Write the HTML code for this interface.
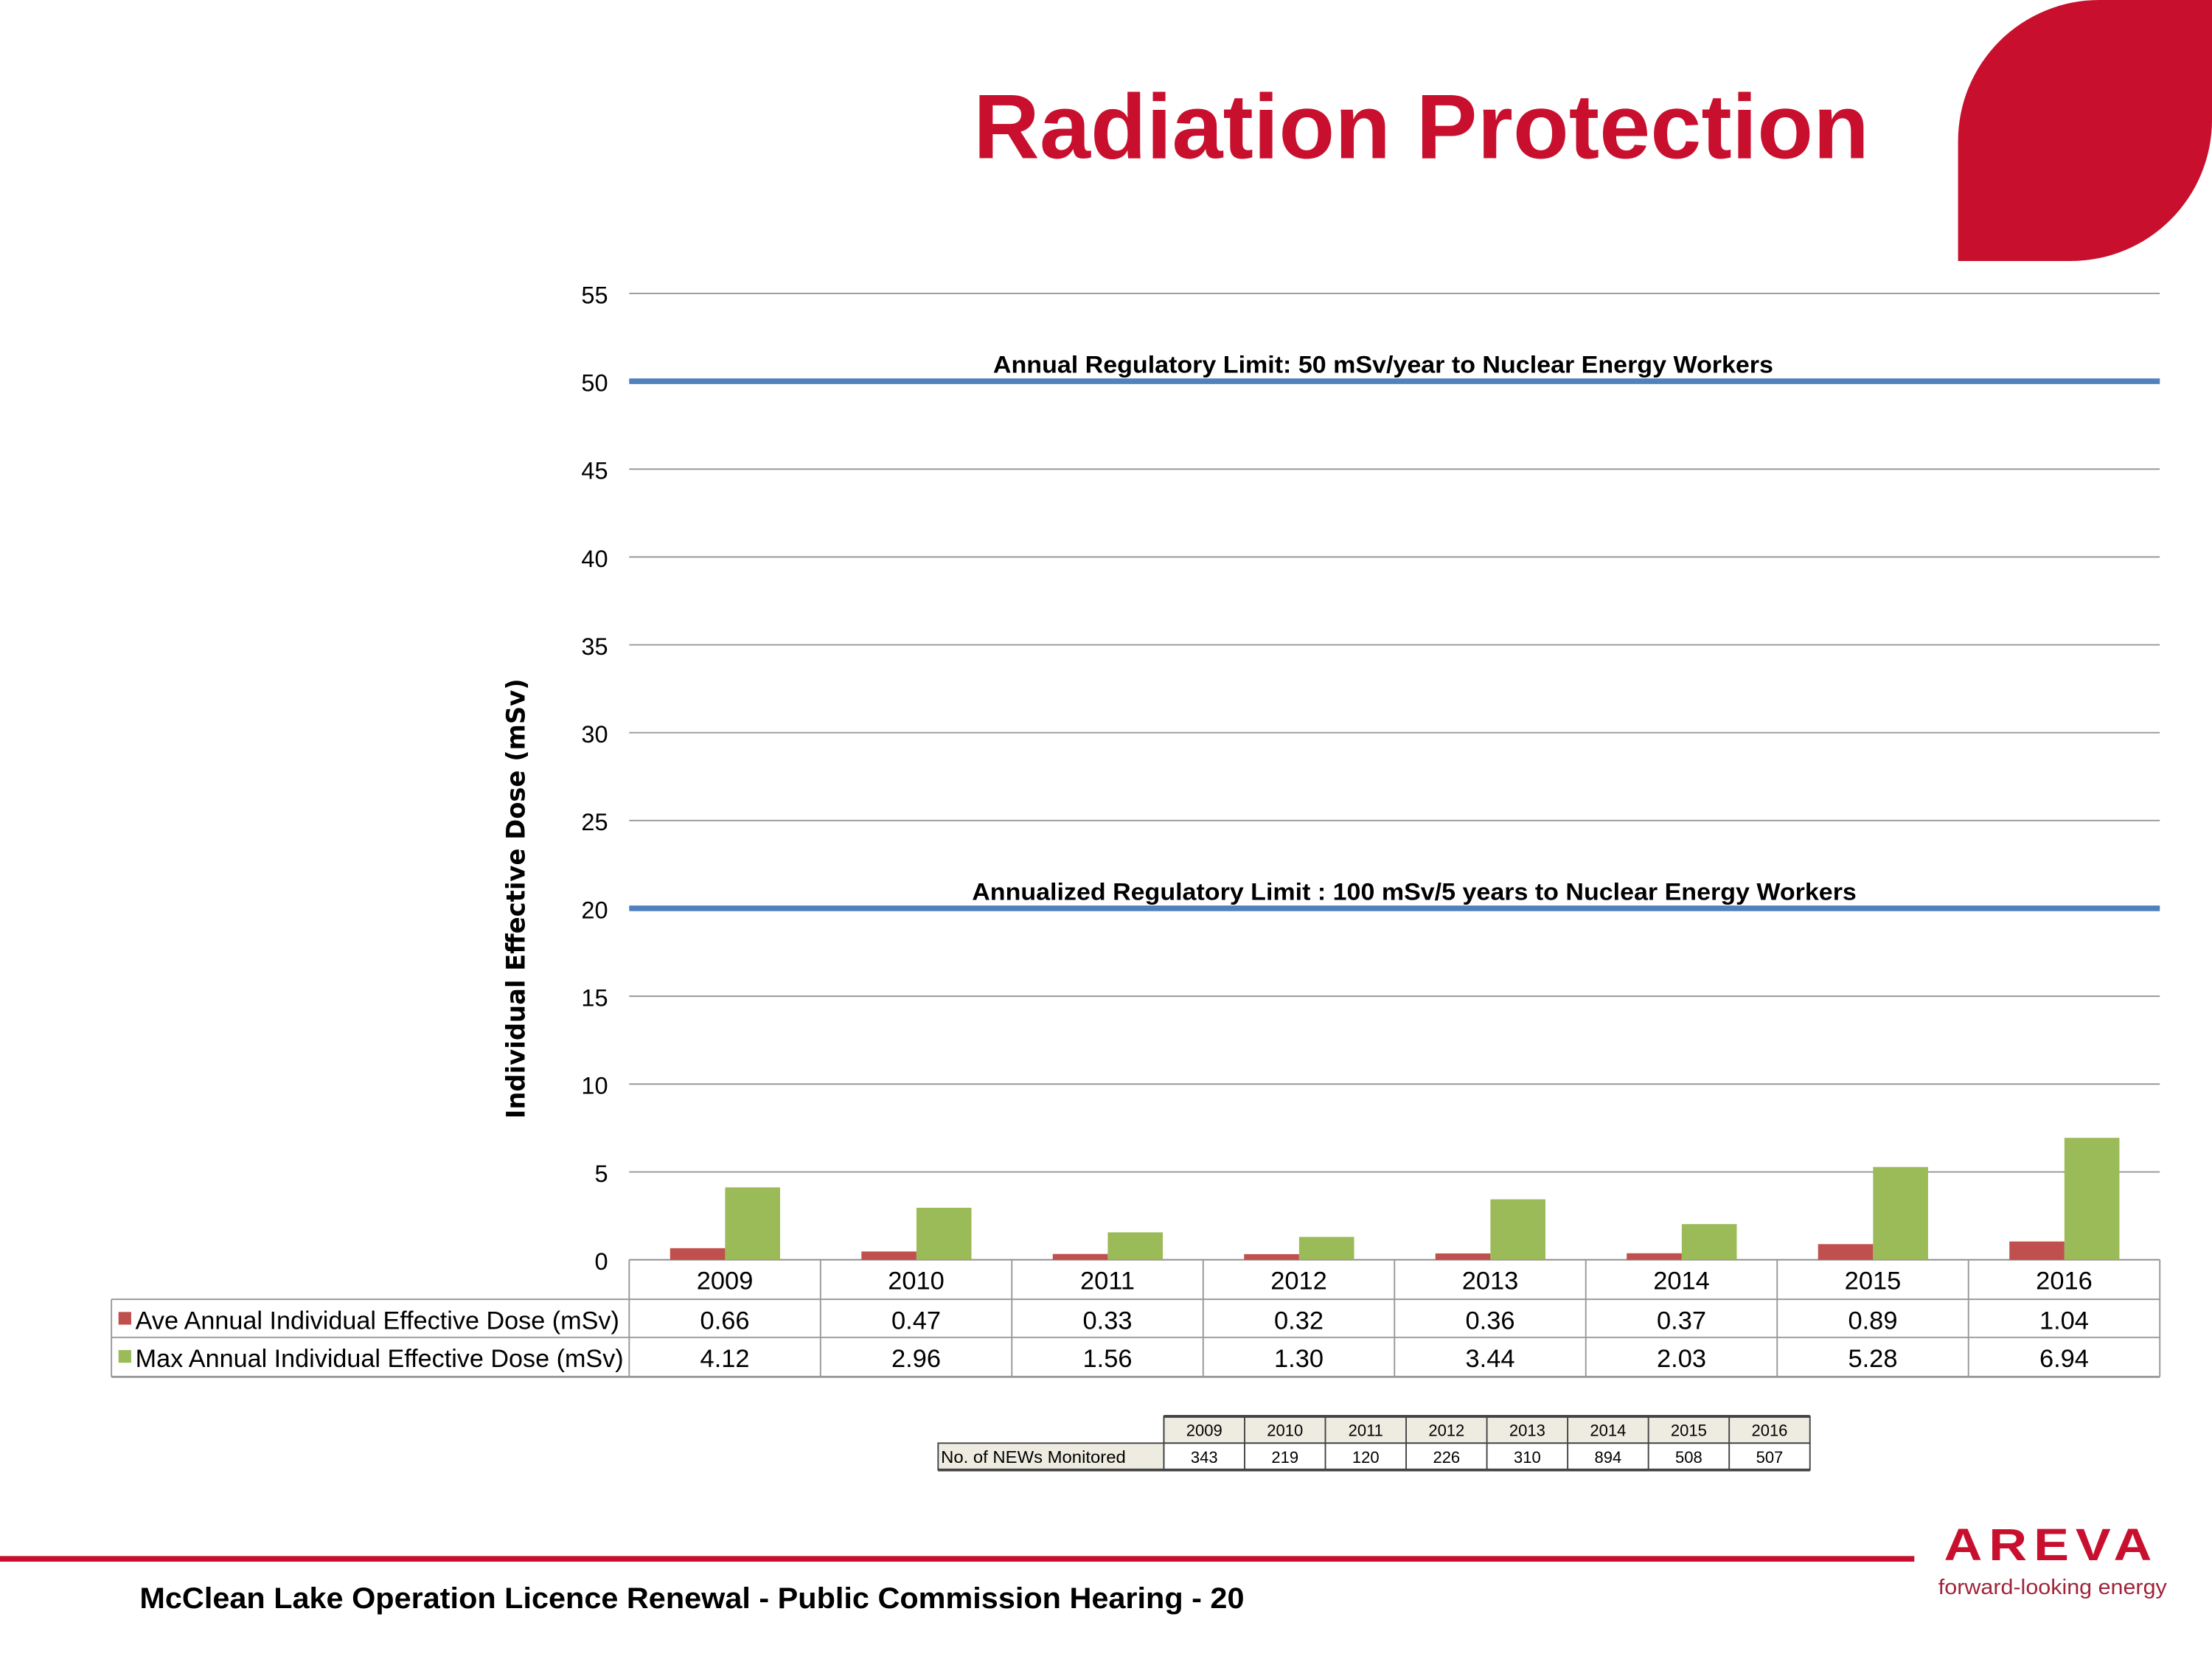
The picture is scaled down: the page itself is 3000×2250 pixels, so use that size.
<!DOCTYPE html>
<html><head><meta charset="utf-8"><style>
html,body{margin:0;padding:0;background:#fff;}
svg{display:block;font-family:"Liberation Sans",Arial,sans-serif;}
</style></head><body>
<svg id="chart" width="3000" height="2250" viewBox="0 0 1568 1176" xmlns="http://www.w3.org/2000/svg">
<path d="M1388,100 A100,100 0 0 1 1488,0 L1568,0 L1568,85 A100,100 0 0 1 1468,185 L1388,185 Z" fill="#c8102e"/>
<text x="690" y="112" textLength="635" lengthAdjust="spacingAndGlyphs" font-size="65" font-weight="bold" fill="#c8102e">Radiation Protection</text>
<g id="grid"></g>
<g id="bars"></g>
<g id="table"></g>
<text transform="translate(372,637) rotate(-90)" text-anchor="middle" font-size="18" font-weight="bold" font-family="DejaVu Sans, sans-serif" fill="#000" textLength="312" lengthAdjust="spacingAndGlyphs">Individual Effective Dose (mSv)</text>
<g id="news"></g>
<rect x="0" y="1103" width="1357" height="4" fill="#c8102e"/>
<text x="99" y="1140" font-size="21" font-weight="bold" fill="#000" textLength="783" lengthAdjust="spacingAndGlyphs">McClean Lake Operation Licence Renewal - Public Commission Hearing - 20</text>
<text x="1378" y="1106" font-size="32" font-weight="bold" fill="#c8102e" letter-spacing="4" textLength="152" lengthAdjust="spacingAndGlyphs">AREVA</text>
<text x="1374" y="1130" font-size="15" fill="#a0243a" textLength="162" lengthAdjust="spacingAndGlyphs">forward-looking energy</text>
</svg>
<script>
const categories=["2009","2010","2011","2012","2013","2014","2015","2016"];
const aveDose=[0.66,0.47,0.33,0.32,0.36,0.37,0.89,1.04];
const maxDose=[4.12,2.96,1.56,1.30,3.44,2.03,5.28,6.94];
const aveLabels=["0.66","0.47","0.33","0.32","0.36","0.37","0.89","1.04"];
const maxLabels=["4.12","2.96","1.56","1.30","3.44","2.03","5.28","6.94"];
const yTicks=[0,5,10,15,20,25,30,35,40,45,50,55];
const limits=[50,20];
const limitLabels=["Annual Regulatory Limit: 50 mSv/year  to Nuclear Energy Workers","Annualized Regulatory Limit : 100 mSv/5 years  to Nuclear Energy Workers"];
const newsCounts=["343","219","120","226","310","894","508","507"];
const NS="http://www.w3.org/2000/svg";
const X0=446,X1=1531,Y0=893,Y55=208;
const y=v=>Y0-(v/55)*(Y0-Y55);
const cw=(X1-X0)/categories.length;
const xc=i=>X0+cw*i;
function mk(parent,tag,attrs,txt){const e=document.createElementNS(NS,tag);for(const k in attrs)e.setAttribute(k,attrs[k]);if(txt!==undefined)e.textContent=txt;document.getElementById(parent).appendChild(e);return e;}
yTicks.forEach(t=>{
  const l=mk('grid','line',{x1:X0,x2:X1,y1:y(t),y2:y(t),stroke:t===0?'#888':'#999','stroke-width':1});
  
  
  const tx=mk('grid','text',{x:431,y:y(t)+7,'text-anchor':'end','font-size':17,fill:'#000'},String(t));
  
  
});
const limX=[704,689],limW=[553,627];
limits.forEach((v,i)=>{
  const l=mk('grid','line',{x1:X0,x2:X1,y1:y(v),y2:y(v),stroke:'#4f81bd','stroke-width':4});
  
  
  const t=mk('grid','text',{x:limX[i],y:y(v)-6,textLength:limW[i],lengthAdjust:'spacingAndGlyphs','font-size':17,'font-weight':'bold',fill:'#000'},limitLabels[i]);
  
  
});
categories.forEach((c,i)=>{
  const r=mk('bars','rect',{x:xc(i)+29,y:y(aveDose[i]),width:39,height:Y0-y(aveDose[i]),fill:'#c0504d'});
  
  
  const g=mk('bars','rect',{x:xc(i)+68,y:y(maxDose[i]),width:39,height:Y0-y(maxDose[i]),fill:'#9bbb59'});
  
  
});
const gs='#999';
mk('table','line',{x1:X0,x2:X0,y1:893,y2:976,stroke:gs});
mk('table','line',{x1:79,x2:79,y1:921,y2:976,stroke:gs});
mk('table','line',{x1:79,x2:X1,y1:921,y2:921,stroke:gs});
mk('table','line',{x1:79,x2:X1,y1:948,y2:948,stroke:gs});
mk('table','line',{x1:79,x2:X1,y1:976,y2:976,stroke:gs,'stroke-width':1.5});
categories.forEach((c,i)=>{
  mk('table','line',{x1:xc(i+1),x2:xc(i+1),y1:893,y2:976,stroke:gs});
  const cx=xc(i)+cw/2;
  const a=mk('table','text',{x:cx,y:914,'text-anchor':'middle','font-size':18},c);
  
  
  const b=mk('table','text',{x:cx,y:942,'text-anchor':'middle','font-size':18},aveLabels[i]);
  
  
  const d=mk('table','text',{x:cx,y:969,'text-anchor':'middle','font-size':18},maxLabels[i]);
  
  
});
let e;
e=mk('table','rect',{x:84,y:930,width:9,height:9,fill:'#c0504d'});


e=mk('table','text',{x:96,y:942,'font-size':18,textLength:343,lengthAdjust:'spacingAndGlyphs'},'Ave Annual Individual Effective Dose (mSv)');


e=mk('table','rect',{x:84,y:957,width:9,height:9,fill:'#9bbb59'});


e=mk('table','text',{x:96,y:969,'font-size':18,textLength:346,lengthAdjust:'spacingAndGlyphs'},'Max Annual Individual Effective Dose (mSv)');


const NX0=825,NW=57.25;
e=mk('news','rect',{x:NX0,y:1004,width:NW*8,height:19,fill:'#eeece1',stroke:'#444','stroke-width':1});


e=mk('news','rect',{x:665,y:1023,width:160,height:19,fill:'#eeece1',stroke:'#444','stroke-width':1});


e=mk('news','rect',{x:NX0,y:1023,width:NW*8,height:19,fill:'#fff',stroke:'#444','stroke-width':1});


mk('news','line',{x1:665,x2:1283,y1:1042,y2:1042,stroke:'#444','stroke-width':2});
mk('news','line',{x1:NX0,x2:1283,y1:1004,y2:1004,stroke:'#444','stroke-width':2});
e=mk('news','text',{x:667,y:1037,'font-size':12,textLength:131,lengthAdjust:'spacingAndGlyphs'},'No. of NEWs Monitored');


categories.forEach((c,i)=>{
  const x=NX0+NW*i;
  mk('news','line',{x1:x,x2:x,y1:1004,y2:1042,stroke:'#444'});
  const h=mk('news','text',{x:x+NW/2,y:1018,'text-anchor':'middle','font-size':11.5},c);
  
  
  const v=mk('news','text',{x:x+NW/2,y:1037,'text-anchor':'middle','font-size':11.5},newsCounts[i]);
  
  
});
</script>
</body></html>
